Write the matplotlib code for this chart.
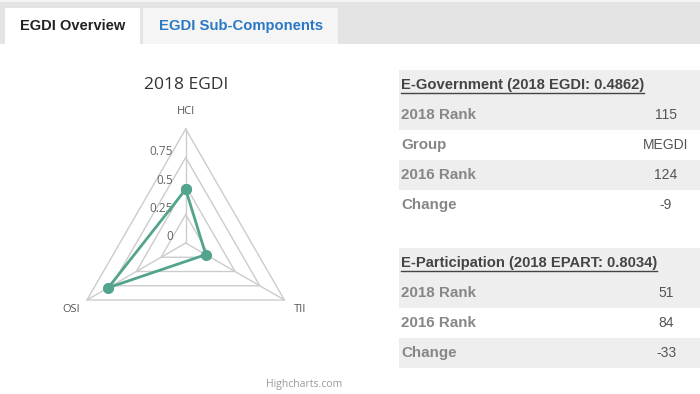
import numpy as np
import matplotlib
matplotlib.use("Agg")
import matplotlib.pyplot as plt
from matplotlib.patches import Rectangle
from matplotlib.transforms import offset_copy

# Данные радара (2018 EGDI)
categories = ['HCI', 'TII', 'OSI']
egdi_values = [0.4703, 0.2036, 0.7847]
grid_levels = [0.25, 0.5, 0.75, 1.0]
radial_ticks = [0, 0.25, 0.5, 0.75]
radial_tick_labels = ['0', '0.25', '0.5', '0.75']

# Вкладки
tabs = ['EGDI Overview', 'EGDI Sub-Components']

# Таблицы справа
egov_title = 'E-Government (2018 EGDI: 0.4862)'
egov_rows = ['2018 Rank', 'Group', '2016 Rank', 'Change']
egov_values = ['115', 'MEGDI', '124', '-9']

epart_title = 'E-Participation (2018 EPART: 0.8034)'
epart_rows = ['2018 Rank', '2016 Rank', 'Change']
epart_values = ['51', '84', '-33']

UI_FONT = ['Liberation Sans', 'DejaVu Sans']
CHART_FONT = ['Open Sans', 'DejaVu Sans']

fig = plt.figure(figsize=(7, 3.94), dpi=100)

# Фоновая ось в пикселях
bg = fig.add_axes([0, 0, 1, 1])
bg.set_xlim(0, 700)
bg.set_ylim(394, 0)
bg.axis('off')

# Полоса вкладок
bg.add_patch(Rectangle((0, 0), 700, 2, color='#f3f3f3', lw=0))
bg.add_patch(Rectangle((0, 2), 700, 42, color='#e4e4e4', lw=0))
bg.add_patch(Rectangle((5, 8), 135, 37, color='white', lw=0))
bg.add_patch(Rectangle((143, 8), 195, 36, color='#f5f5f5', lw=0))
bg.text(72.5, 26, tabs[0], ha='center', va='center', fontsize=10.5,
        fontweight='bold', color='#222222', family=UI_FONT)
bg.text(241, 26, tabs[1], ha='center', va='center', fontsize=10.7,
        fontweight='bold', color='#2b78c5', family=UI_FONT)


# Таблица с заголовком и строками
def draw_table(top, title, rows, values):
    row_h = 30
    bg.add_patch(Rectangle((399, top), 301, row_h, color='#eeeeee', lw=0))
    head = bg.text(401, top + 15, title, ha='left', va='center', fontsize=10.65,
                   fontweight='bold', color='#444444', family=UI_FONT)
    for i, (label, value) in enumerate(zip(rows, values)):
        y0 = top + row_h * (i + 1)
        if i % 2 == 0:
            bg.add_patch(Rectangle((399, y0), 301, row_h, color='#eeeeee', lw=0))
        bg.text(401, y0 + 15, label, ha='left', va='center', fontsize=10.9,
                fontweight='bold', color='#878787', family=UI_FONT)
        bg.text(666, y0 + 15, value, ha='center', va='center', fontsize=10,
                color='#555555', family=UI_FONT)
    return head, top + 23


headers = [draw_table(70, egov_title, egov_rows, egov_values),
           draw_table(248, epart_title, epart_rows, epart_values)]

# Заголовок графика и подпись
bg.text(185.7, 85, '2018 EGDI', ha='center', va='center', fontsize=12.5,
        color='#333333', family=CHART_FONT)
bg.text(304.5, 385, 'Highcharts.com', ha='center', va='center', fontsize=7.5,
        color='#999999', family=CHART_FONT)

# Радар
cx, cy, R = 185.7, 243, 114
ax = fig.add_axes([(cx - R) / 700, (394 - cy - R) / 394, 2 * R / 700, 2 * R / 394],
                  projection='polar')
ax.set_theta_zero_location('N')
ax.set_theta_direction(-1)
ax.set_ylim(0, 1)
ax.set_axis_off()

angles = np.linspace(0, 2 * np.pi, len(categories), endpoint=False)
closed_angles = np.append(angles, angles[0])

for level in grid_levels:
    ax.plot(closed_angles, [level] * len(closed_angles), color='#cccccc', lw=1, clip_on=False)
for a in angles:
    ax.plot([a, a], [0, 1], color='#cccccc', lw=1, clip_on=False)

vals = egdi_values + egdi_values[:1]
ax.plot(closed_angles, vals, color='#52a48e', lw=2, marker='o', markersize=7,
        clip_on=False, zorder=5)

for a, cat in zip(angles, categories):
    r = 1.15 if a == 0 else 1.16
    ax.text(a, r, cat, ha='center', va='center', fontsize=8, color='#555555',
            family=CHART_FONT)

tick_tr = offset_copy(ax.transData, fig=fig, x=-13, y=6, units='dots')
for v, lab in zip(radial_ticks, radial_tick_labels):
    ax.text(0, v, lab, transform=tick_tr, ha='right', va='center', fontsize=8.5,
            color='#666666', family=CHART_FONT)

# Подчёркивание заголовков таблиц
fig.canvas.draw()
inv = bg.transData.inverted()
for head, y_line in headers:
    bb = head.get_window_extent()
    x0 = inv.transform((bb.x0, bb.y0))[0]
    x1 = inv.transform((bb.x1, bb.y0))[0]
    bg.plot([x0, x1], [y_line, y_line], color='#444444', lw=1)

fig.savefig('out.png', dpi=100)
